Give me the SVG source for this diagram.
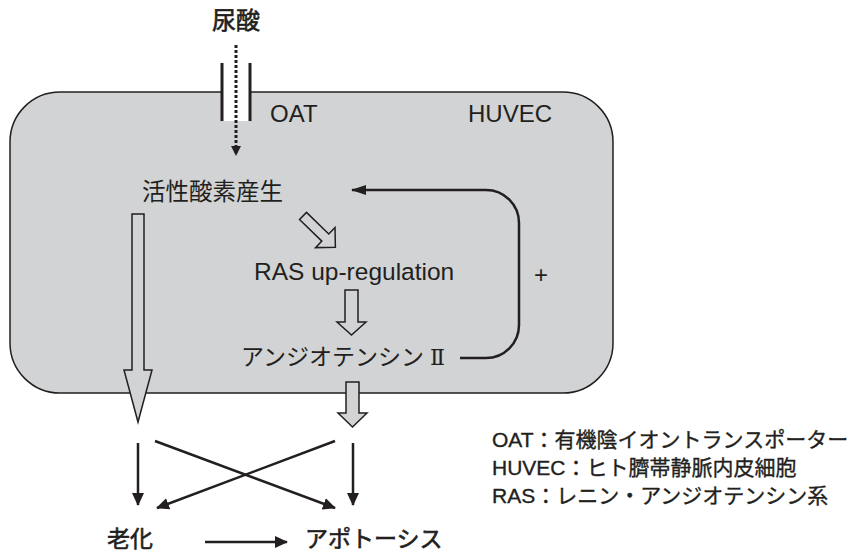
<svg xmlns="http://www.w3.org/2000/svg" width="857" height="553" viewBox="0 0 857 553">
<defs>
<style>
.t{font-family:"Liberation Sans","Noto Sans CJK JP",sans-serif;fill:#231f20}
.j{font-family:"Noto Sans CJK JP","Liberation Sans",sans-serif;fill:#231f20}
.m{stroke:#231f20;stroke-width:0.6}
.ml{stroke:#231f20;stroke-width:0.35}
.ln{stroke:#231f20;stroke-width:2.5;fill:none}
.hol{fill:#d1d3d4;stroke:#231f20;stroke-width:1.5;stroke-linejoin:miter}
</style>
<marker id="ah" viewBox="0 0 13 12" refX="12" refY="6" markerWidth="13" markerHeight="12" orient="auto" markerUnits="userSpaceOnUse"><path d="M0,0 L13,6 L0,12 z" fill="#231f20"/></marker>
<marker id="ahs" viewBox="0 0 10 10" refX="9" refY="5" markerWidth="10" markerHeight="10" orient="auto" markerUnits="userSpaceOnUse"><path d="M0,0 L10,5 L0,10 z" fill="#231f20"/></marker>
<marker id="ahf" viewBox="0 0 15 10" refX="14" refY="5" markerWidth="15" markerHeight="10" orient="auto" markerUnits="userSpaceOnUse"><path d="M0,0 L15,5 L0,10 z" fill="#231f20"/></marker>
</defs>
<rect width="857" height="553" fill="#ffffff"/>
<g id="cell">
<rect x="10" y="92" width="603" height="301" rx="50" ry="50" fill="#d1d3d4" stroke="#231f20" stroke-width="1.5"/>
<text class="t" x="468" y="122" font-size="24">HUVEC</text>
</g>
<g id="oat">
<rect x="223" y="91" width="26" height="30" fill="#ffffff"/>
<line x1="222" y1="63" x2="222" y2="121" stroke="#231f20" stroke-width="3"/>
<line x1="250" y1="63" x2="250" y2="121" stroke="#231f20" stroke-width="3"/>
<text class="t" x="270" y="122" font-size="24">OAT</text>
</g>
<g id="uric-acid"><text class="j m" x="236" y="29" font-size="24" text-anchor="middle">尿酸</text></g>
<g id="ros"><text class="j" x="142" y="200" font-size="23.5">活性酸素産生</text></g>
<g id="ras"><text class="t" x="254" y="280" font-size="24.5">RAS up-regulation</text></g>
<g id="ang2"><text class="j" x="241" y="365" font-size="23">アンジオテンシン<tspan font-family="DejaVu Serif" font-size="22" dx="6">Ⅱ</tspan></text></g>
<g id="plus"><text class="t" x="541" y="283" font-size="24" text-anchor="middle">+</text></g>
<g id="senescence"><text class="j m" x="107" y="547" font-size="23">老化</text></g>
<g id="apoptosis"><text class="j m" x="305" y="547" font-size="23">アポトーシス</text></g>
<g id="legend" class="t ml" font-size="21">
<text x="492" y="447">OAT：有機陰イオントランスポーター</text>
<text x="492" y="475">HUVEC：ヒト臍帯静脈内皮細胞</text>
<text x="492" y="503">RAS：レニン・アンジオテンシン系</text>
</g>
<g id="connectors">
<line x1="236" y1="45" x2="236" y2="155" stroke="#231f20" stroke-width="3" stroke-dasharray="3 2" marker-end="url(#ahs)"/>
<polygon class="hol" transform="translate(303,216) rotate(44)" points="0,-5 31,-5 31,-14 45,0 31,14 31,5 0,5"/>
<polygon class="hol" points="345,290 358,290 358,322 366,322 351.5,335 337,322 345,322"/>
<polygon class="hol" points="346,382 359,382 359,413 367,413 352.5,427 338,413 346,413"/>
<polygon class="hol" points="132,214 144,214 144,370 152,370 138,422 124,370 132,370"/>
<path class="ln" d="M460,358 H486 A33,33 0 0 0 519,325 V223 A33,33 0 0 0 486,190 H352" marker-end="url(#ahf)"/>
<line class="ln" x1="138" y1="443" x2="138" y2="505" marker-end="url(#ah)"/>
<line class="ln" x1="353" y1="443" x2="353" y2="505" marker-end="url(#ah)"/>
<line class="ln" x1="155" y1="441" x2="335" y2="508" marker-end="url(#ah)"/>
<line class="ln" x1="335" y1="441" x2="157" y2="508" marker-end="url(#ah)"/>
<line class="ln" x1="205" y1="542" x2="287" y2="542" marker-end="url(#ah)"/>
</g>
</svg>
